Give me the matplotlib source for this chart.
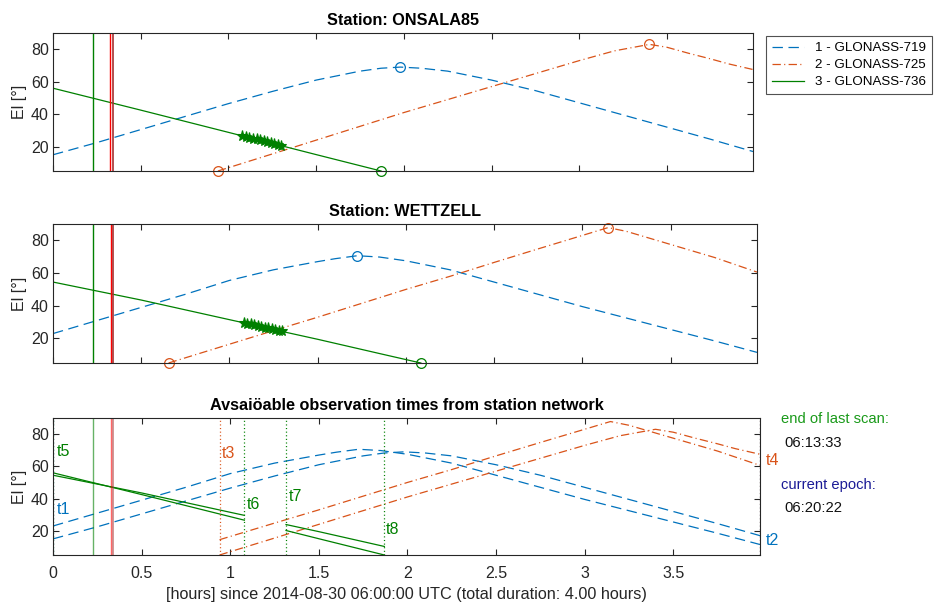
import numpy as np
import matplotlib
matplotlib.use("Agg")
import matplotlib.pyplot as plt

plt.rcParams['font.family'] = ['Liberation Sans', 'DejaVu Sans']
plt.rcParams['lines.scale_dashes'] = False

# --- datos ---
t_end = 3.99
sat_names = ['1 - GLONASS-719', '2 - GLONASS-725', '3 - GLONASS-736']

# ONSALA85
ons_t1 = [0, 0.25, 0.5, 0.75, 1.0, 1.25, 1.5, 1.75, 1.87, 1.98, 2.1, 2.25, 2.5, 2.75, 3.0, 3.25, 3.5, 3.75, 3.99]
ons_el1 = [15, 22.5, 30.5, 38.5, 46.5, 54, 61, 66.5, 68.3, 69, 68.3, 66.5, 61, 54.5, 47, 39.5, 32, 24.5, 17]
ons_t2 = [0.94, 1.25, 1.5, 1.75, 2.0, 2.25, 2.5, 2.75, 3.0, 3.2, 3.40, 3.5, 3.62, 3.75, 3.85, 3.99]
ons_el2 = [5, 15.5, 24, 32.5, 41, 49, 57, 65, 73, 79, 83, 81.2, 77.6, 74, 71, 67.5]
ons_t3 = [0, 0.5, 1.0, 1.08, 1.315, 1.5, 1.87]
ons_el3 = [56, 42.5, 28.8, 26.6, 20.2, 15.1, 5]

# WETTZELL
wet_t1 = [0, 0.25, 0.5, 0.75, 1.0, 1.25, 1.5, 1.6, 1.725, 1.85, 2.0, 2.25, 2.5, 2.75, 3.0, 3.25, 3.5, 3.75, 3.99]
wet_el1 = [23, 31, 39, 47, 55.5, 62, 67, 68.8, 70.6, 69.8, 67.5, 62, 54.5, 47, 39.5, 32.5, 25.5, 18.5, 11.5]
wet_t2 = [0.655, 0.94, 1.25, 1.5, 1.75, 2.0, 2.25, 2.5, 2.75, 3.0, 3.146, 3.25, 3.5, 3.75, 3.99]
wet_el2 = [5, 14.5, 24.8, 33, 41.5, 50, 58, 66.5, 74.8, 83, 87.8, 85.5, 77.5, 69.5, 60.6]
wet_t3 = [0, 0.5, 1.0, 1.08, 1.315, 1.5, 1.87, 2.085]
wet_el3 = [54.5, 43.5, 31.5, 29.6, 23.9, 19.5, 10.3, 5]

# scan (estrellas)
scan_t = [1.08, 1.10, 1.12, 1.14, 1.16, 1.18, 1.20, 1.22, 1.24, 1.26, 1.28, 1.30]
ons_scan_el = [26.6, 26.1, 25.5, 25.0, 24.5, 23.9, 23.4, 22.8, 22.3, 21.8, 21.2, 20.7]
wet_scan_el = [29.6, 29.1, 28.6, 28.1, 27.7, 27.2, 26.7, 26.2, 25.7, 25.2, 24.8, 24.3]

# ventanas de observacion comunes (t1..t8)
win1 = [(0.0, 3.99)]
win2 = [(0.94, 3.99)]
win3 = [(0.0, 1.08), (1.315, 1.87)]

last_scan_h = 0.2258   # 06:13:33
epoch_h = 0.3394       # 06:20:22
extra_red_h = 0.326

colors = ['#0072BD', '#D95319', '#008000']
styles = [(0, (7.5, 4.0)), (0, (6.0, 2.4, 0.8, 2.4)), '-']
dotted = (0, (0.8, 1.8))
fs = 11.5


def hhmmss(h):
    s = int(round((6 + h) * 3600))
    return '%02d:%02d:%02d' % (s // 3600, (s % 3600) // 60, s % 60)


def estilo(ax, labels=False):
    ax.set_xlim(0, t_end)
    ax.set_ylim(5, 90)
    ax.set_yticks([20, 40, 60, 80])
    ax.set_xticks([0, 0.5, 1, 1.5, 2, 2.5, 3, 3.5])
    ax.set_xticklabels(['0', '0.5', '1', '1.5', '2', '2.5', '3', '3.5'])
    ax.tick_params(direction='in', top=True, right=True, length=4, width=0.8,
                   color='#262626', labelcolor='#262626', labelsize=fs,
                   labelbottom=labels)
    ax.tick_params(axis='y', pad=3)
    ax.tick_params(axis='x', pad=8)
    for sp in ax.spines.values():
        sp.set_color('#262626')
        sp.set_linewidth(0.8)
    ax.set_ylabel('El [°]', fontsize=fs, color='#262626', labelpad=3)


def lineas_verticales(ax, alpha=1.0):
    ax.axvline(last_scan_h, color='#008000', lw=1, alpha=alpha)
    ax.axvline(extra_red_h, color='red', lw=1, alpha=alpha)
    ax.axvline(epoch_h + 0.002, color='#a83030', lw=1.2, alpha=alpha)


def estacion(ax, datos, scan_el, titulo):
    handles = []
    for i, (t, el) in enumerate(datos):
        t = np.array(t)
        el = np.array(el)
        h, = ax.plot(t, el, color=colors[i], linestyle=styles[i], lw=0.9)
        handles.append(h)
        # eventos: salida, puesta, maximo
        ev = []
        if t[0] > 0:
            ev.append(0)
        if t[-1] < t_end:
            ev.append(len(t) - 1)
        k = int(np.argmax(el))
        if 0 < k < len(t) - 1:
            ev.append(k)
        ax.plot(t[ev], el[ev], 'o', mfc='none', mec=colors[i], ms=7, mew=0.9,
                clip_on=False)
    ax.plot(scan_t, scan_el, '*', color='#008000', ms=8, mew=0.8)
    lineas_verticales(ax)
    ax.set_title(titulo, fontsize=11.7, fontweight='bold', pad=6)
    return handles


fig = plt.figure(figsize=(9.37, 6.06), dpi=100)
ax1 = fig.add_axes([53 / 937, 1 - 171 / 606, 700 / 937, 138 / 606])
ax2 = fig.add_axes([53 / 937, 1 - 363 / 606, 704 / 937, 139 / 606])
ax3 = fig.add_axes([53 / 937, 1 - 555 / 606, 707 / 937, 137 / 606])

ons = [(ons_t1, ons_el1), (ons_t2, ons_el2), (ons_t3, ons_el3)]
wet = [(wet_t1, wet_el1), (wet_t2, wet_el2), (wet_t3, wet_el3)]

handles = estacion(ax1, ons, ons_scan_el, 'Station: ONSALA85')
estacion(ax2, wet, wet_scan_el, 'Station: WETTZELL')

# panel inferior: tiempos comunes de observacion
ventanas = [win1, win2, win3]
for i in range(3):
    for st in (ons, wet):
        t = np.array(st[i][0])
        el = np.array(st[i][1])
        for a, b in ventanas[i]:
            m = (t >= a - 1e-9) & (t <= b + 1e-9)
            ax3.plot(t[m], el[m], color=colors[i], linestyle=styles[i], lw=0.9)

lineas_verticales(ax3, alpha=0.6)

# lineas punteadas de los tiempos t1..t8
marcas = [(0.0, 0, 't1', 0.02, 33.5), (t_end, 0, 't2', 4.02, 13.8),
          (0.94, 1, 't3', 0.955, 68), (t_end, 1, 't4', 4.02, 63.5),
          (0.0, 2, 't5', 0.02, 69), (1.08, 2, 't6', 1.095, 36.5),
          (1.315, 2, 't7', 1.33, 41), (1.87, 2, 't8', 1.88, 21)]
for x, c, lab, tx, ty in marcas:
    ax3.axvline(x, color=colors[c], linestyle=dotted, lw=0.9)
    ax3.text(tx, ty, lab, color=colors[c], fontsize=fs, ha='left', va='center',
             clip_on=False)

ax3.set_title('Avsaiöable observation times from station network',
              fontsize=11.7, fontweight='bold', pad=6)

for ax in (ax1, ax2):
    estilo(ax)
estilo(ax3, labels=True)
ax3.set_xlabel('[hours] since 2014-08-30 06:00:00 UTC (total duration: 4.00 hours)',
               fontsize=11.7, color='#262626', labelpad=4)

# textos a la derecha
fig.text(781 / 937, 1 - 419 / 606, 'end of last scan:', color='#1a9a1a',
         fontsize=10.6, va='center')
fig.text(784 / 937, 1 - 443 / 606, hhmmss(last_scan_h), color='#111111',
         fontsize=10.6, va='center')
fig.text(781 / 937, 1 - 485 / 606, 'current epoch:', color='#1a1a96',
         fontsize=10.6, va='center')
fig.text(784 / 937, 1 - 508 / 606, hhmmss(epoch_h), color='#111111',
         fontsize=10.6, va='center')

leg = fig.legend(handles, sat_names, loc='upper left',
                 bbox_to_anchor=(766 / 937, 1 - 36 / 606), fontsize=9.6,
                 frameon=True, fancybox=False, edgecolor='#262626',
                 handlelength=2.4, handletextpad=0.8, borderpad=0.45,
                 labelspacing=0.35, borderaxespad=0)
leg.get_frame().set_linewidth(0.8)

fig.savefig('out.png', dpi=100)
